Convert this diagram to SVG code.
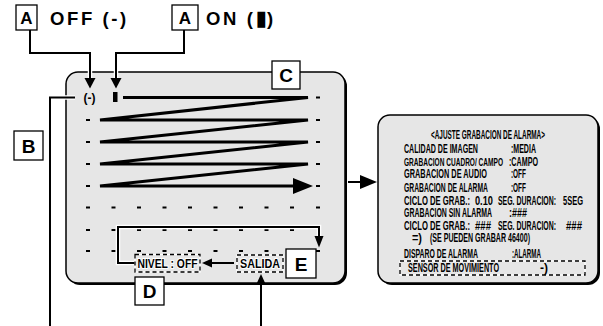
<svg xmlns="http://www.w3.org/2000/svg" width="603" height="326" viewBox="0 0 603 326">
<style>
.lbl{fill:#fff;stroke:#000;stroke-width:1.3}
.lt{font-family:"Liberation Sans",Arial,sans-serif;font-weight:bold;font-size:19px;text-anchor:middle}
.la{font-size:17px}
.hd{font-family:"Liberation Sans",Arial,sans-serif;font-weight:bold;font-size:18.5px;letter-spacing:2.6px}
.ln{fill:none;stroke:#000;stroke-width:2}
.halo{fill:none;stroke:#fff;stroke-width:4.5}
.zz{fill:none;stroke:#000;stroke-width:3;stroke-linejoin:bevel}
.osd{font-family:"Liberation Sans",Arial,sans-serif;font-weight:bold;font-size:12.5px}
.sm{font-family:"Liberation Sans",Arial,sans-serif;font-weight:bold;font-size:13px;stroke:#fff;stroke-width:2;paint-order:stroke}
.dbw{fill:none;stroke:#fff;stroke-width:1.3}
.db{fill:none;stroke:#000;stroke-width:1.3;stroke-dasharray:4 3}
.screen{fill:#e6e6e6;stroke:#000;stroke-width:1.5}
</style>
<defs>
<rect id="d" width="4" height="2" fill="#000"/>
</defs>

<!-- main screen -->
<g id="screen-main">
<rect x="68" y="74" width="279" height="211" rx="12" fill="#000"/>
<rect class="screen" x="66" y="72" width="279" height="211" rx="12"/>
<g id="grid">
<use href="#d" x="316" y="96.5"/>
<use href="#d" x="86" y="119"/><use href="#d" x="316" y="119"/>
<use href="#d" x="86" y="141"/><use href="#d" x="316" y="141"/>
<use href="#d" x="86" y="163"/><use href="#d" x="316" y="163"/>
<use href="#d" x="86" y="185"/><use href="#d" x="316" y="185"/>
<use href="#d" x="86" y="206.5"/><use href="#d" x="111.5" y="206.5"/><use href="#d" x="137" y="206.5"/><use href="#d" x="162.5" y="206.5"/><use href="#d" x="188" y="206.5"/><use href="#d" x="213.5" y="206.5"/><use href="#d" x="239" y="206.5"/><use href="#d" x="264.5" y="206.5"/><use href="#d" x="290" y="206.5"/><use href="#d" x="316" y="206.5"/>
<use href="#d" x="86" y="229"/><use href="#d" x="111.5" y="229"/><use href="#d" x="137" y="229"/><use href="#d" x="162.5" y="229"/><use href="#d" x="188" y="229"/><use href="#d" x="213.5" y="229"/><use href="#d" x="239" y="229"/><use href="#d" x="264.5" y="229"/><use href="#d" x="290" y="229"/>
<use href="#d" x="86" y="250"/><use href="#d" x="111.5" y="250"/><use href="#d" x="137" y="250"/><use href="#d" x="162.5" y="250"/><use href="#d" x="188" y="250"/><use href="#d" x="213.5" y="250"/><use href="#d" x="239" y="250"/><use href="#d" x="264.5" y="250"/><use href="#d" x="316" y="250"/>
</g>
<text x="89.5" y="101.5" font-family="Liberation Sans, Arial, sans-serif" font-weight="bold" font-size="12" text-anchor="middle">(-)</text>
<rect x="113" y="92" width="4.5" height="10" fill="#000"/>
<polyline class="zz" points="123,97.5 308,97.5 100,120 308,120 100,142 308,142 100,164 308,164 100,186 296,186"/>
<polygon points="293,178 313,186 293,194" fill="#000"/>
</g>

<!-- connectors -->
<g id="connectors">
<path class="halo" d="M30,30 V53 H90 V80 M184,30 V53 H116 V80 M75,97.5 H50 V326 M261,326 V284 M135,263 H118 V227 H319 V238"/>
<path class="ln" d="M30,30 V53 H90 V80"/>
<polygon points="84.5,78 95.5,78 90,88.5" fill="#000"/>
<path class="ln" d="M184,30 V53 H116 V80"/>
<polygon points="110.5,78 121.5,78 116,88.5" fill="#000"/>
<path class="ln" d="M75,97.5 H50 V326"/>
<path class="ln" d="M261,326 V283"/>
<polygon points="256,285 266,285 261,274" fill="#000"/>
<path class="ln" d="M135,263 H118 V227 H319 V238"/>
<polygon points="314.5,236 323.5,236 319,247.5" fill="#000"/>
<path class="ln" d="M234,263 H211"/>
<polygon points="212,258.5 212,267.5 202,263" fill="#000"/>
<path class="ln" d="M348,182 H362"/>
<polygon points="360,175 377,182 360,189" fill="#000"/>
</g>

<!-- menu items -->
<g id="nivel">
<rect class="dbw" x="135" y="254.5" width="65" height="17.5"/>
<rect class="db" x="135" y="254.5" width="65" height="17.5"/>
<text class="sm" x="137.5" y="268" textLength="60" lengthAdjust="spacingAndGlyphs">NIVEL : OFF</text>
</g>
<g id="salida">
<rect class="dbw" x="237" y="255" width="46" height="17"/>
<rect class="db" x="237" y="255" width="46" height="17"/>
<text class="sm" x="240" y="268" textLength="40" lengthAdjust="spacingAndGlyphs">SALIDA</text>
</g>

<!-- labels -->
<g id="label-a-off">
<rect class="lbl" x="16" y="5" width="21" height="25"/>
<text class="lt la" x="26.5" y="24">A</text>
<text class="hd" x="50" y="25">OFF (-)</text>
</g>
<g id="label-a-on">
<rect class="lbl" x="172" y="5" width="26" height="25"/>
<text class="lt la" x="185" y="24">A</text>
<text class="hd" x="206" y="25">ON (<tspan font-family="DejaVu Sans, sans-serif" font-size="21" letter-spacing="0">▮</tspan>)</text>
</g>
<g id="label-b">
<rect class="lbl" x="14" y="131" width="29" height="29"/>
<text class="lt" x="28.5" y="152.5">B</text>
</g>
<g id="label-c">
<rect class="lbl" x="272" y="61" width="28" height="28"/>
<text class="lt" x="286" y="82">C</text>
</g>
<g id="label-d">
<rect class="lbl" x="135" y="277" width="29" height="28"/>
<text class="lt" x="149.5" y="298">D</text>
</g>
<g id="label-e">
<rect class="lbl" x="286" y="249" width="30" height="29"/>
<text class="lt" x="301" y="270.5">E</text>
</g>

<!-- right screen -->
<g id="screen-menu">
<rect x="380" y="117" width="220" height="168" rx="12" fill="#000"/>
<rect class="screen" x="378" y="115" width="220" height="168" rx="12"/>
<rect class="dbw" x="400" y="261" width="185" height="14"/>
<rect class="db" x="400" y="261" width="185" height="14" stroke-dasharray="6 4"/>
<g class="osd" transform="translate(404,0) scale(0.6,1)">
<text x="45" y="139.5" textLength="190" lengthAdjust="spacingAndGlyphs">&lt;AJUSTE GRABACION DE ALARMA&gt;</text>
<text x="0" y="153" textLength="123.3" lengthAdjust="spacingAndGlyphs">CALIDAD DE IMAGEN</text>
<text x="178.3" y="153" textLength="41.7" lengthAdjust="spacingAndGlyphs">:MEDIA</text>
<text x="0" y="166" textLength="165" lengthAdjust="spacingAndGlyphs" font-size="11.5">GRABACION CUADRO/ CAMPO</text>
<text x="175" y="166" textLength="48.3" lengthAdjust="spacingAndGlyphs">:CAMPO</text>
<text x="0" y="178.5" textLength="138.3" lengthAdjust="spacingAndGlyphs">GRABACION DE AUDIO</text>
<text x="178.3" y="178.5" textLength="25" lengthAdjust="spacingAndGlyphs">:OFF</text>
<text x="0" y="192" textLength="140" lengthAdjust="spacingAndGlyphs">GRABACION DE ALARMA</text>
<text x="178.3" y="192" textLength="25" lengthAdjust="spacingAndGlyphs">:OFF</text>
<text x="0" y="205" textLength="110" lengthAdjust="spacingAndGlyphs">CICLO DE GRAB.:</text>
<text x="118.3" y="205" textLength="30" lengthAdjust="spacingAndGlyphs">0.10</text>
<text x="156.7" y="205" textLength="96.7" lengthAdjust="spacingAndGlyphs">SEG. DURACION:</text>
<text x="265" y="205" textLength="33.3" lengthAdjust="spacingAndGlyphs">5SEG</text>
<text x="0" y="217.5" textLength="146.7" lengthAdjust="spacingAndGlyphs">GRABACION SIN ALARMA</text>
<text x="175" y="217.5" textLength="30" lengthAdjust="spacingAndGlyphs">:###</text>
<text x="0" y="230" textLength="110" lengthAdjust="spacingAndGlyphs">CICLO DE GRAB.:</text>
<text x="118.3" y="230" textLength="26.7" lengthAdjust="spacingAndGlyphs">###</text>
<text x="156.7" y="230" textLength="96.7" lengthAdjust="spacingAndGlyphs">SEG. DURACION:</text>
<text x="270" y="230" textLength="26.7" lengthAdjust="spacingAndGlyphs">###</text>
<text x="13.3" y="242.5" textLength="16.7" lengthAdjust="spacingAndGlyphs">=)</text>
<text x="43.3" y="242.5" textLength="166.7" lengthAdjust="spacingAndGlyphs">(SE PUEDEN GRABAR 46400)</text>
<text x="0" y="258.5" textLength="123.3" lengthAdjust="spacingAndGlyphs">DISPARO DE ALARMA</text>
<text x="180" y="258.5" textLength="48.3" lengthAdjust="spacingAndGlyphs">:ALARMA</text>
<text x="6.7" y="272.5" textLength="151.7" lengthAdjust="spacingAndGlyphs">SENSOR DE MOVIMIENTO</text>
<text x="226.7" y="272.5" textLength="13.3" lengthAdjust="spacingAndGlyphs">-)</text>
</g>
</g>
</svg>
